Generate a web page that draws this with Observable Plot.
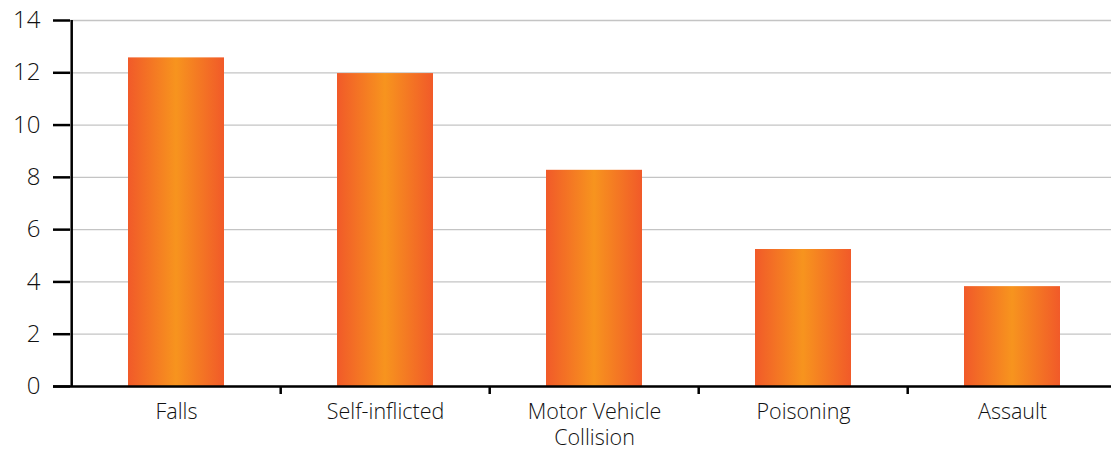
<!DOCTYPE html>
<html><head><meta charset="utf-8">
<script src="https://cdn.jsdelivr.net/npm/d3@7"></script>
<script src="https://cdn.jsdelivr.net/npm/@observablehq/plot@0.6"></script>
<style>
body{margin:0;background:#fff}
#chart svg{font-family:"Open Sans",sans-serif;font-weight:300;color:#111}
</style>
</head><body><div id="chart"></div>
<script>
const categories = ["Falls", "Self-inflicted", "Motor Vehicle Collision", "Poisoning", "Assault"];
const labels = ["Falls", "Self-inflicted", "Motor Vehicle\nCollision", "Poisoning", "Assault"];
const values = [12.57, 11.97, 8.27, 5.24, 3.82];
const yTicks = [0, 2, 4, 6, 8, 10, 12, 14];

const W = 1111, H = 449, ml = 70, mr = -7, mt = 20, mb = 63;
const step = (W - ml - mr) / categories.length;
const data = categories.map((c, i) => ({c, v: values[i], label: labels[i]}));

const plot = Plot.plot({
  width: W, height: H,
  marginLeft: ml, marginRight: mr, marginTop: mt, marginBottom: mb,
  style: {background: "#fff", overflow: "visible"},
  x: {domain: categories, paddingInner: 0.54, paddingOuter: 0.27, axis: null},
  y: {domain: [0, 14]},
  marks: [
    Plot.gridY(yTicks, {stroke: "#c4c4c4", strokeOpacity: 1, strokeWidth: 1.3}),
    Plot.barY(data, {x: "c", y: "v", fill: "url(#barGrad)"}),
    Plot.axisY(yTicks, {label: null, tickSize: 17, tickPadding: 13, fontSize: 24, strokeWidth: 2.5, stroke: "#000", fill: "#111"}),
    Plot.ruleX([categories[0]], {dx: -step / 2, stroke: "#000", strokeWidth: 2.5}),
    Plot.ruleY([0], {insetLeft: -17, stroke: "#000", strokeWidth: 2.5}),
    Plot.ruleX(categories.slice(1), {dx: -step / 2, y1: 0, y2: 0, insetBottom: -8, stroke: "#000", strokeWidth: 2.5}),
    Plot.text(data, {x: "c", frameAnchor: "bottom", text: "label", lineAnchor: "top", dy: 13, lineHeight: 1.25, fontSize: 21.5, fill: "#111"})
  ]
});

const defs = d3.select(plot).insert("defs", ":first-child");
const lg = defs.append("linearGradient").attr("id", "barGrad").attr("x1", 0).attr("x2", 1).attr("y1", 0).attr("y2", 0);
lg.append("stop").attr("offset", "0%").attr("stop-color", "#f15a29");
lg.append("stop").attr("offset", "50%").attr("stop-color", "#f7941e");
lg.append("stop").attr("offset", "100%").attr("stop-color", "#f15a29");

document.getElementById("chart").appendChild(plot);
</script>
</body></html>
